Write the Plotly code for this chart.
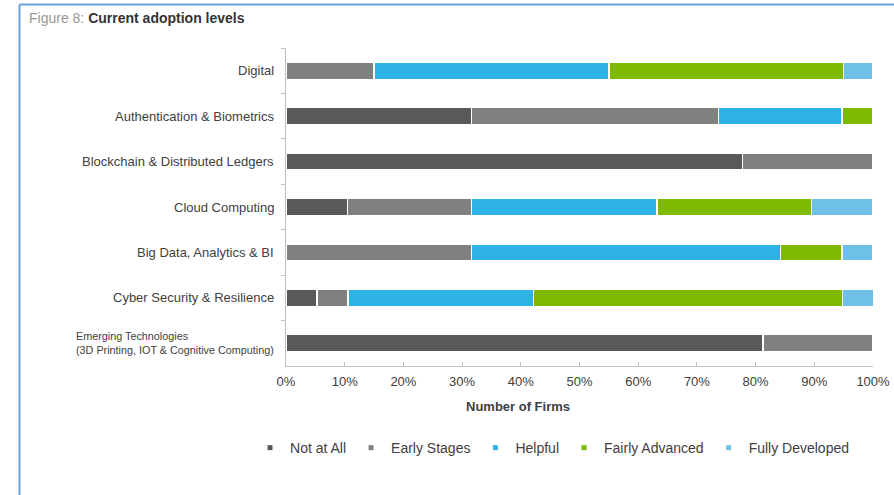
import plotly.graph_objects as go

categories = ["Digital", "Authentication & Biometrics", "Blockchain & Distributed Ledgers",
              "Cloud Computing", "Big Data, Analytics & BI", "Cyber Security & Resilience",
              "Emerging Technologies<br>(3D Printing, IOT & Cognitive Computing)"]
not_at_all = [0, 31.6, 77.8, 10.5, 0, 5.3, 81.3]
early_stages = [15, 42.1, 22.2, 21.1, 31.6, 5.3, 18.7]
helpful = [40, 21.0, 0, 31.6, 52.6, 31.6, 0]
fairly_advanced = [40, 5.3, 0, 26.3, 10.5, 52.6, 0]
fully_developed = [5, 0, 0, 10.5, 5.3, 5.3, 0]

series = [
    ("Not at All", not_at_all, "#595959"),
    ("Early Stages", early_stages, "#808080"),
    ("Helpful", helpful, "#2db3e6"),
    ("Fairly Advanced", fairly_advanced, "#7fb900"),
    ("Fully Developed", fully_developed, "#6fc0e6"),
]

FONT = "Liberation Sans, Arial, sans-serif"
TXT = "#404040"
fig = go.Figure()
for name, vals, col in series:
    fig.add_trace(go.Bar(
        y=categories, x=vals, name=name, orientation="h",
        marker=dict(color=col, line=dict(color="white", width=1.5)),
        showlegend=False,
    ))
    fig.add_trace(go.Scatter(
        x=[None], y=[None], mode="markers", name=name,
        marker=dict(symbol="square", size=5, color=col),
    ))

# category labels (left-aligned block, right-anchored)
for c in categories:
    size = 10.8 if "<br>" in c else 13
    fig.add_annotation(x=0, xref="paper", y=c, yref="y", text=c, showarrow=False,
                       xanchor="right", align="left", xshift=-10,
                       font=dict(family=FONT, size=size, color=TXT))

fig.add_annotation(x=-0.441, xref="paper", y=1.094, yref="paper", showarrow=False,
                   xanchor="left", yanchor="middle",
                   text="<span style='color:#999999'>Figure 8: </span><b>Current adoption levels</b>",
                   font=dict(family=FONT, size=14, color="#333333"))
fig.add_annotation(x=0.395, xref="paper", y=-0.126, yref="paper", showarrow=False,
                   xanchor="center", yanchor="middle", text="<b>Number of Firms</b>",
                   font=dict(family=FONT, size=13, color=TXT))

# frame lines (top and left)
fig.add_shape(type="line", xref="paper", yref="paper", x0=-0.454, x1=1.2, y0=1.137, y1=1.137,
              line=dict(color="#6aa2e0", width=2))
fig.add_shape(type="line", xref="paper", yref="paper", x0=-0.454, x1=-0.454, y0=1.137, y1=-0.6,
              line=dict(color="#6aa2e0", width=2))

fig.update_layout(
    barmode="stack", bargap=0.62,
    width=894, height=495,
    margin=dict(l=286, r=21, t=48, b=129, autoexpand=False),
    paper_bgcolor="white", plot_bgcolor="white",
    font=dict(family=FONT, size=13, color=TXT),
    xaxis=dict(range=[0, 100], dtick=10, ticksuffix="%", showgrid=False, zeroline=False,
               showline=True, linecolor="#bfbfbf", ticks="inside", ticklen=4, tickcolor="#bfbfbf",
               ticklabelstandoff=3, tickfont=dict(size=13, color=TXT)),
    yaxis=dict(autorange="reversed", showticklabels=False, showgrid=False, zeroline=False,
               showline=True, linecolor="#bfbfbf", ticks="outside", ticklen=4,
               tickcolor="#bfbfbf", tickson="boundaries"),
    legend=dict(orientation="h", x=-0.0613, xanchor="left", y=-0.258, yanchor="middle",
                traceorder="normal",
                font=dict(family=FONT, size=14, color=TXT), itemwidth=30,
                bgcolor="rgba(0,0,0,0)"),
)

fig.write_html("out.html", config={"responsive": False, "displayModeBar": False},
               post_script="document.body.style.margin='0';document.body.style.overflow='hidden';")
